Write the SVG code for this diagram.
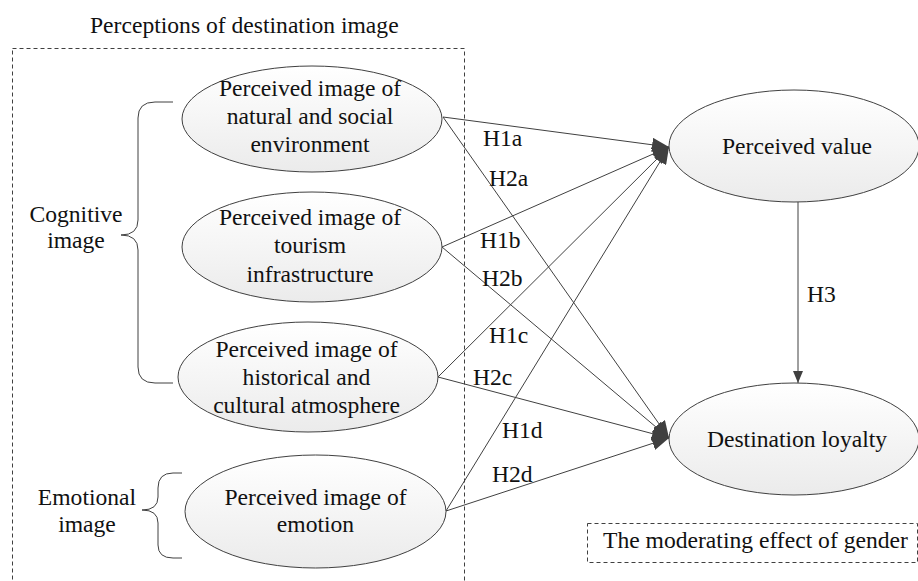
<svg xmlns="http://www.w3.org/2000/svg" width="918" height="581" viewBox="0 0 918 581">
<defs>
<linearGradient id="g" x1="0" y1="0" x2="0" y2="1">
<stop offset="0" stop-color="#ffffff"/>
<stop offset="1" stop-color="#ebebeb"/>
</linearGradient>
<marker id="ah" markerUnits="userSpaceOnUse" markerWidth="18" markerHeight="14" refX="17" refY="7" orient="auto">
<path d="M0,0 L17,7 L0,14 z" fill="#404040"/>
</marker>
<marker id="ah2" markerUnits="userSpaceOnUse" markerWidth="12" markerHeight="10" refX="12" refY="5" orient="auto">
<path d="M0,0 L12,5 L0,10 z" fill="#404040"/>
</marker>
<style>
text{font-family:'Liberation Serif',serif;font-size:23.6px;fill:#111}
.n ellipse{fill:url(#g);stroke:#404040;stroke-width:1}
.c line{stroke:#404040;stroke-width:1;fill:none}
.dash{fill:none;stroke:#404040;stroke-width:1;stroke-dasharray:4 3}
.brace{fill:none;stroke:#404040;stroke-width:1}
.m{text-anchor:middle}
</style>
</defs>
<rect width="918" height="581" fill="#fff"/>
<g id="group-perceptions">
<rect class="dash" x="12.5" y="48.5" width="452" height="545"/>
<text x="90" y="33">Perceptions of destination image</text>
</g>
<g id="cognitive">
<path class="brace" d="M173,102 L155,102 Q138,102 138,118 L138,220 Q138,235 121,235 Q138,235 138,250 L138,367 Q138,383 155,383 L173,383"/>
<text class="m" x="76" y="222">Cognitive</text>
<text class="m" x="76" y="248">image</text>
</g>
<g id="emotional">
<path class="brace" d="M182,473 L173,473 Q158,473 158,488 L158,497 Q158,510 142,510 Q158,510 158,523 L158,545 Q158,558 173,558 L182,558"/>
<text class="m" x="87" y="505">Emotional</text>
<text class="m" x="87" y="532">image</text>
</g>
<g class="c" id="connectors">
<line x1="443" y1="117" x2="669" y2="147" marker-end="url(#ah)"/>
<line x1="442" y1="247" x2="669" y2="147" marker-end="url(#ah)"/>
<line x1="438" y1="377" x2="669" y2="147" marker-end="url(#ah)"/>
<line x1="446" y1="511" x2="669" y2="147" marker-end="url(#ah)"/>
<line x1="443" y1="117" x2="669" y2="438" marker-end="url(#ah)"/>
<line x1="442" y1="247" x2="669" y2="438" marker-end="url(#ah)"/>
<line x1="438" y1="377" x2="669" y2="438" marker-end="url(#ah)"/>
<line x1="446" y1="511" x2="669" y2="438" marker-end="url(#ah)"/>
<line x1="798" y1="202" x2="798" y2="383" marker-end="url(#ah2)"/>
<text x="483" y="146">H1a</text>
<text x="489" y="186">H2a</text>
<text x="480" y="248">H1b</text>
<text x="482" y="286">H2b</text>
<text x="489" y="343">H1c</text>
<text x="473" y="385">H2c</text>
<text x="502" y="438">H1d</text>
<text x="492" y="482">H2d</text>
<text x="807" y="302">H3</text>
</g>
<g class="n" id="node-natural">
<ellipse cx="312" cy="119" rx="130" ry="53"/>
<text class="m" x="310" y="96">Perceived image of</text>
<text class="m" x="310" y="124">natural and social</text>
<text class="m" x="310" y="152">environment</text>
</g>
<g class="n" id="node-tourism">
<ellipse cx="312" cy="247" rx="130" ry="55"/>
<text class="m" x="310" y="225">Perceived image of</text>
<text class="m" x="310" y="253">tourism</text>
<text class="m" x="310" y="282">infrastructure</text>
</g>
<g class="n" id="node-historical">
<ellipse cx="308" cy="377" rx="130" ry="55"/>
<text class="m" x="306.5" y="357">Perceived image of</text>
<text class="m" x="306.5" y="385">historical and</text>
<text class="m" x="306.5" y="413">cultural atmosphere</text>
</g>
<g class="n" id="node-emotion">
<ellipse cx="315.5" cy="511.5" rx="130.5" ry="56.5"/>
<text class="m" x="315.5" y="505">Perceived image of</text>
<text class="m" x="315.5" y="532">emotion</text>
</g>
<g class="n" id="node-value">
<ellipse cx="794" cy="146" rx="125" ry="56"/>
<text class="m" x="797" y="154">Perceived value</text>
</g>
<g class="n" id="node-loyalty">
<ellipse cx="794" cy="439" rx="125" ry="56"/>
<text class="m" x="797" y="447">Destination loyalty</text>
</g>
<g id="moderating">
<rect class="dash" x="587.5" y="523.5" width="330" height="39"/>
<text x="603" y="548">The moderating effect of gender</text>
</g>
</svg>
